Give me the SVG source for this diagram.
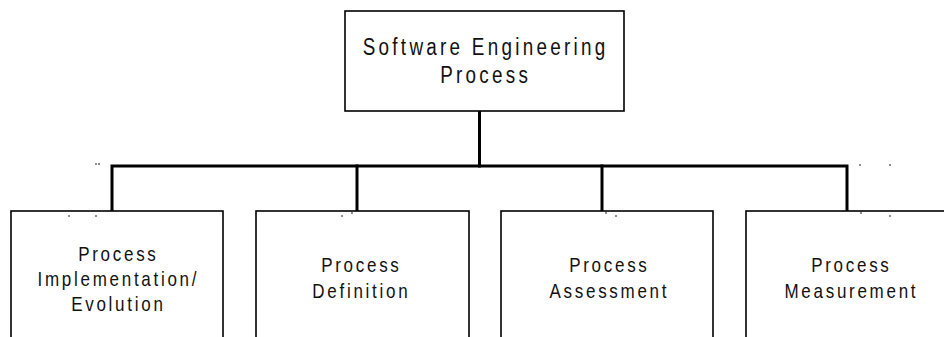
<svg xmlns="http://www.w3.org/2000/svg" width="944" height="337" viewBox="0 0 944 337">
<style>
.box{fill:#fff;stroke:#000;stroke-width:1.6}
.con{fill:none;stroke:#000;stroke-width:3;stroke-linecap:square}
.t{font-family:"Liberation Sans",Arial,sans-serif;fill:#111;text-anchor:middle}
.big{font-size:23px;letter-spacing:4px}
.sm{font-size:20px;letter-spacing:3.2px}
.dot{fill:#000}
</style>
<rect width="944" height="337" fill="#fff"/>
<g id="connectors">
<path class="con" d="M479.5 112 V166"/>
<path class="con" d="M112 210 V166 H847 V210"/>
<path class="con" d="M357 166 V210"/>
<path class="con" d="M602 166 V210"/>
</g>
<g id="root">
<rect class="box" x="345" y="11" width="279" height="100"/>
<text class="t big" transform="translate(484 55) scale(0.82 1)" x="2">Software Engineering</text>
<text class="t big" transform="translate(484 83) scale(0.82 1)" x="2">Process</text>
</g>
<g id="impl">
<rect class="box" x="11" y="211" width="212" height="140"/>
<text class="t sm" transform="translate(117 261) scale(0.85 1)" x="1.6">Process</text>
<text class="t sm" transform="translate(117 286) scale(0.85 1)" x="1.6">Implementation/</text>
<text class="t sm" transform="translate(117 311) scale(0.85 1)" x="1.6">Evolution</text>
</g>
<g id="def">
<rect class="box" x="256" y="211" width="213" height="140"/>
<text class="t sm" transform="translate(360 272) scale(0.85 1)" x="1.6">Process</text>
<text class="t sm" transform="translate(360 298) scale(0.85 1)" x="1.6">Definition</text>
</g>
<g id="assess">
<rect class="box" x="501" y="211" width="212" height="140"/>
<text class="t sm" transform="translate(608 272) scale(0.85 1)" x="1.6">Process</text>
<text class="t sm" transform="translate(608 298) scale(0.85 1)" x="1.6">Assessment</text>
</g>
<g id="measure">
<rect class="box" x="746" y="211" width="210" height="140"/>
<text class="t sm" transform="translate(850 272) scale(0.85 1)" x="1.6">Process</text>
<text class="t sm" transform="translate(850 298) scale(0.85 1)" x="1.6">Measurement</text>
</g>
<g id="specks">
<circle class="dot" cx="96" cy="164" r="0.8"/><circle class="dot" cx="99" cy="164" r="0.8"/>
<circle class="dot" cx="69" cy="216" r="0.8"/><circle class="dot" cx="96" cy="216" r="0.8"/>
<circle class="dot" cx="342" cy="216" r="0.8"/><circle class="dot" cx="352" cy="213" r="0.8"/>
<circle class="dot" cx="606" cy="213" r="0.8"/><circle class="dot" cx="616" cy="216" r="0.8"/>
<circle class="dot" cx="860" cy="165" r="0.8"/><circle class="dot" cx="890" cy="165" r="0.8"/>
<circle class="dot" cx="861" cy="213" r="0.8"/><circle class="dot" cx="890" cy="216" r="0.8"/>
</g>
</svg>
